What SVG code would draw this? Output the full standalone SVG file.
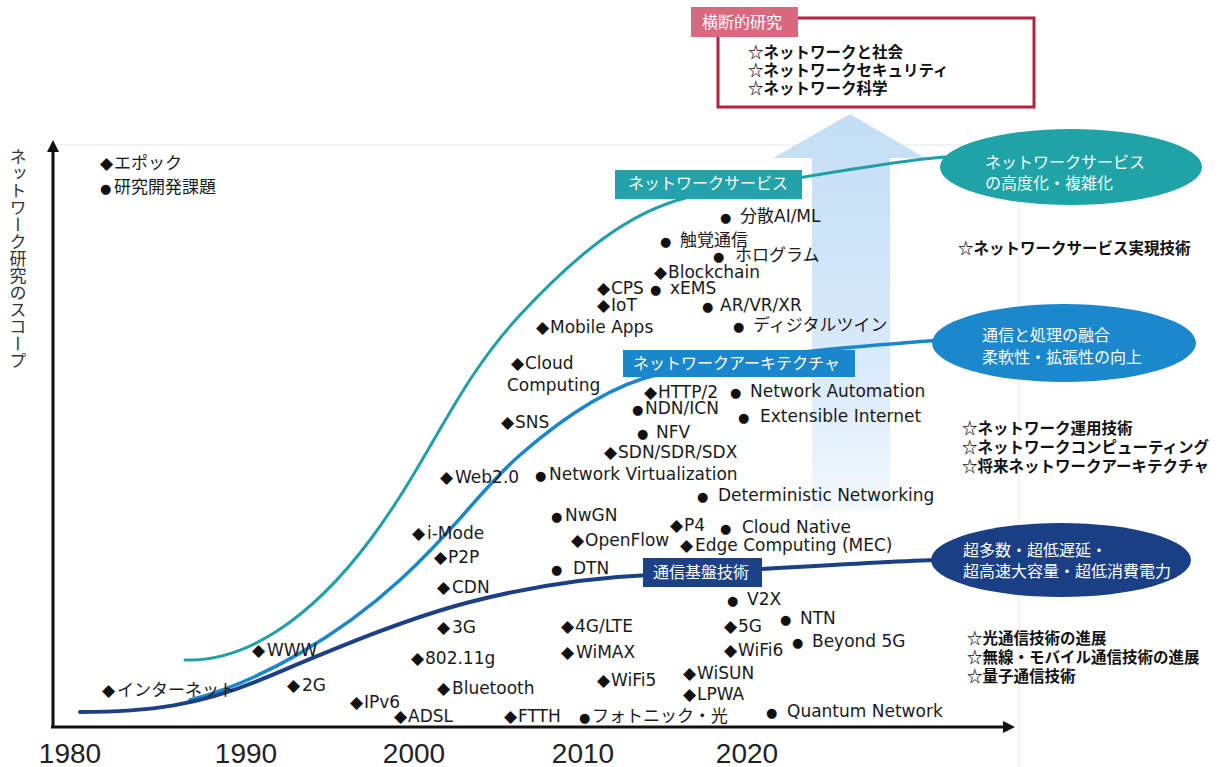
<svg xmlns="http://www.w3.org/2000/svg" width="1222" height="767" viewBox="0 0 1222 767">
<style>
.it{font-family:"DejaVu Sans","Noto Sans CJK JP",sans-serif;font-size:17px;fill:#1a1a1a}
.mk{font-size:13px;fill:#111}
.dm{font-size:17px;fill:#111}
.wl{font-family:"Noto Sans CJK JP",sans-serif;font-size:16px;fill:#fff}
.bl{font-family:"Noto Sans CJK JP",sans-serif;font-size:15.5px;font-weight:700;fill:#111}
.yr{font-family:"Liberation Sans",Arial,sans-serif;font-size:28px;fill:#222;text-anchor:middle}
.ax{stroke:#111;stroke-width:3;fill:none}
.cv{fill:none;stroke-linecap:round}
</style>
<defs>
<marker id="ah" viewBox="0 0 10 10" refX="0" refY="5" markerWidth="4" markerHeight="4" orient="auto" markerUnits="strokeWidth"><path d="M0,0 L10,5 L0,10 z" fill="#111"/></marker>
<linearGradient id="ag" x1="0" y1="0" x2="0" y2="1"><stop offset="0" stop-color="#c3def5"/><stop offset="0.7" stop-color="#dcecfa"/><stop offset="1" stop-color="#f3f9fe"/></linearGradient>
</defs>
<rect width="1222" height="767" fill="#fff"/>
<g id="panel"><path d="M55,145 H1019 V767" fill="none" stroke="#efefef" stroke-width="1.5"/></g>
<g id="bigarrow"><polygon points="850,114 925,158 890,158 890,510 812,510 812,158 773,158" fill="url(#ag)"/></g>

<g id="crosscut">
<rect x="718" y="18" width="316" height="89" fill="#fff" stroke="#b5223d" stroke-width="3"/>
<rect x="691" y="7" width="107" height="30" fill="#d9697f"/>
<text class="wl" x="702" y="28">横断的研究</text>
<text class="bl" x="748" y="58">☆ネットワークと社会</text>
<text class="bl" x="748" y="76">☆ネットワークセキュリティ</text>
<text class="bl" x="748" y="94">☆ネットワーク科学</text>
</g>

<g id="connectors">
<path class="cv" d="M185,660 C245,662 310,620 370,540 C430,460 455,385 520,315 C585,245 640,205 700,195 C760,185 880,162 945,157" stroke="#1fa0a6" stroke-width="3"/>
<path class="cv" d="M190,700 C260,682 340,635 400,580 C460,525 480,490 520,455 C560,420 610,385 660,374 C760,352 880,345 940,340" stroke="#1a86cc" stroke-width="3.5"/>
<path class="cv" d="M80,712 C150,712 200,705 260,680 C320,655 400,620 470,602 C540,584 600,577 650,575 C700,573 850,563 935,560" stroke="#1c3f86" stroke-width="4"/>
</g>

<g id="lbl-service"><rect x="615" y="170" width="187" height="29" fill="#22a3a9"/><text class="wl" x="628" y="189">ネットワークサービス</text></g>
<g id="lbl-arch"><rect x="623" y="350" width="232" height="27" fill="#1a86cc"/><text class="wl" x="633" y="369">ネットワークアーキテクチャ</text></g>
<g id="lbl-base"><rect x="643" y="558" width="119" height="29" fill="#1d4187"/><text class="wl" x="653" y="578">通信基盤技術</text></g>

<g id="ell-service"><ellipse cx="1071" cy="167" rx="131" ry="38" fill="#1fa3a7"/><text class="wl" x="985" y="168">ネットワークサービス</text><text class="wl" x="985" y="189">の高度化・複雑化</text></g>
<g id="ell-arch"><ellipse cx="1064" cy="343" rx="132" ry="39" fill="#1b87cc"/><text class="wl" x="982" y="341">通信と処理の融合</text><text class="wl" x="982" y="363">柔軟性・拡張性の向上</text></g>
<g id="ell-base"><ellipse cx="1061" cy="560" rx="130" ry="37" fill="#1b3f85"/><text class="wl" x="963" y="556">超多数・超低遅延・</text><text class="wl" x="963" y="577">超高速大容量・超低消費電力</text></g>

<g id="list-service"><text class="bl" x="958" y="254">☆ネットワークサービス実現技術</text></g>
<g id="list-arch"><text class="bl" x="962" y="434">☆ネットワーク運用技術</text><text class="bl" x="962" y="453">☆ネットワークコンピューティング</text><text class="bl" x="962" y="472">☆将来ネットワークアーキテクチャ</text></g>
<g id="list-base"><text class="bl" x="967" y="644">☆光通信技術の進展</text><text class="bl" x="967" y="663">☆無線・モバイル通信技術の進展</text><text class="bl" x="967" y="682">☆量子通信技術</text></g>

<g id="legend"><text class="it" y="169"><tspan class="dm" x="100">◆</tspan><tspan x="114">エポック</tspan></text><text class="it" y="193"><tspan class="mk" x="100">●</tspan><tspan x="114">研究開発課題</tspan></text></g>

<g id="items">
<g id="i1"><text class="it" y="222"><tspan class="mk" x="720">●</tspan><tspan x="740">分散AI/ML</tspan></text></g>
<g id="i2"><text class="it" y="246"><tspan class="mk" x="660">●</tspan><tspan x="680">触覚通信</tspan></text></g>
<g id="i3"><text class="it" y="261"><tspan class="mk" x="713">●</tspan><tspan x="735">ホログラム</tspan></text></g>
<g id="i4"><text class="it" y="278"><tspan class="dm" x="654">◆</tspan><tspan x="668">Blockchain</tspan></text></g>
<g id="i5"><text class="it" y="294"><tspan class="dm" x="597">◆</tspan><tspan x="611">CPS</tspan></text></g>
<g id="i6"><text class="it" y="294"><tspan class="mk" x="650">●</tspan><tspan x="670">xEMS</tspan></text></g>
<g id="i7"><text class="it" y="311"><tspan class="dm" x="597">◆</tspan><tspan x="611">IoT</tspan></text></g>
<g id="i8"><text class="it" y="311"><tspan class="mk" x="702">●</tspan><tspan x="720">AR/VR/XR</tspan></text></g>
<g id="i9"><text class="it" y="333"><tspan class="dm" x="536">◆</tspan><tspan x="550">Mobile Apps</tspan></text></g>
<g id="i10"><text class="it" y="331"><tspan class="mk" x="733">●</tspan><tspan x="753">ディジタルツイン</tspan></text></g>
<g id="i11"><text class="it" y="369"><tspan class="dm" x="511">◆</tspan><tspan x="525">Cloud</tspan></text><text class="it" x="507" y="391">Computing</text></g>
<g id="i12"><text class="it" y="398"><tspan class="dm" x="644">◆</tspan><tspan x="658">HTTP/2</tspan></text></g>
<g id="i13"><text class="it" y="397"><tspan class="mk" x="730">●</tspan><tspan x="750">Network Automation</tspan></text></g>
<g id="i14"><text class="it" y="414"><tspan class="mk" x="632">●</tspan><tspan x="645">NDN/ICN</tspan></text></g>
<g id="i15"><text class="it" y="422"><tspan class="mk" x="738">●</tspan><tspan x="760">Extensible Internet</tspan></text></g>
<g id="i16"><text class="it" y="438"><tspan class="mk" x="637">●</tspan><tspan x="656">NFV</tspan></text></g>
<g id="i17"><text class="it" y="458"><tspan class="dm" x="604">◆</tspan><tspan x="618">SDN/SDR/SDX</tspan></text></g>
<g id="i18"><text class="it" y="428"><tspan class="dm" x="501">◆</tspan><tspan x="515">SNS</tspan></text></g>
<g id="i19"><text class="it" y="483"><tspan class="dm" x="440">◆</tspan><tspan x="455">Web2.0</tspan></text></g>
<g id="i20"><text class="it" y="480"><tspan class="mk" x="535">●</tspan><tspan x="549">Network Virtualization</tspan></text></g>
<g id="i21"><text class="it" y="501"><tspan class="mk" x="697">●</tspan><tspan x="718">Deterministic Networking</tspan></text></g>
<g id="i22"><text class="it" y="521"><tspan class="mk" x="551">●</tspan><tspan x="565">NwGN</tspan></text></g>
<g id="i23"><text class="it" y="539"><tspan class="dm" x="412">◆</tspan><tspan x="427">i-Mode</tspan></text></g>
<g id="i24"><text class="it" y="546"><tspan class="dm" x="571">◆</tspan><tspan x="585">OpenFlow</tspan></text></g>
<g id="i25"><text class="it" y="531"><tspan class="dm" x="670">◆</tspan><tspan x="684">P4</tspan></text></g>
<g id="i26"><text class="it" y="533"><tspan class="mk" x="720">●</tspan><tspan x="742">Cloud Native</tspan></text></g>
<g id="i27"><text class="it" y="551"><tspan class="dm" x="680">◆</tspan><tspan x="695">Edge Computing (MEC)</tspan></text></g>
<g id="i28"><text class="it" y="563"><tspan class="dm" x="434">◆</tspan><tspan x="448">P2P</tspan></text></g>
<g id="i29"><text class="it" y="574"><tspan class="mk" x="551">●</tspan><tspan x="573">DTN</tspan></text></g>
<g id="i30"><text class="it" y="593"><tspan class="dm" x="437">◆</tspan><tspan x="452">CDN</tspan></text></g>
<g id="i31"><text class="it" y="605"><tspan class="mk" x="727">●</tspan><tspan x="747">V2X</tspan></text></g>
<g id="i32"><text class="it" y="624"><tspan class="mk" x="780">●</tspan><tspan x="800">NTN</tspan></text></g>
<g id="i33"><text class="it" y="633"><tspan class="dm" x="437">◆</tspan><tspan x="452">3G</tspan></text></g>
<g id="i34"><text class="it" y="632"><tspan class="dm" x="561">◆</tspan><tspan x="575">4G/LTE</tspan></text></g>
<g id="i35"><text class="it" y="632"><tspan class="dm" x="724">◆</tspan><tspan x="738">5G</tspan></text></g>
<g id="i36"><text class="it" y="647"><tspan class="mk" x="792">●</tspan><tspan x="812">Beyond 5G</tspan></text></g>
<g id="i37"><text class="it" y="664"><tspan class="dm" x="411">◆</tspan><tspan x="425">802.11g</tspan></text></g>
<g id="i38"><text class="it" y="658"><tspan class="dm" x="561">◆</tspan><tspan x="576">WiMAX</tspan></text></g>
<g id="i39"><text class="it" y="656"><tspan class="dm" x="724">◆</tspan><tspan x="738">WiFi6</tspan></text></g>
<g id="i40"><text class="it" y="679"><tspan class="dm" x="683">◆</tspan><tspan x="697">WiSUN</tspan></text></g>
<g id="i41"><text class="it" y="686"><tspan class="dm" x="597">◆</tspan><tspan x="611">WiFi5</tspan></text></g>
<g id="i42"><text class="it" y="694"><tspan class="dm" x="437">◆</tspan><tspan x="452">Bluetooth</tspan></text></g>
<g id="i43"><text class="it" y="700"><tspan class="dm" x="683">◆</tspan><tspan x="697">LPWA</tspan></text></g>
<g id="i44"><text class="it" y="696"><tspan class="dm" x="102">◆</tspan><tspan x="117">インターネット</tspan></text></g>
<g id="i45"><text class="it" y="656"><tspan class="dm" x="252">◆</tspan><tspan x="267">WWW</tspan></text></g>
<g id="i46"><text class="it" y="691"><tspan class="dm" x="287">◆</tspan><tspan x="302">2G</tspan></text></g>
<g id="i47"><text class="it" y="708"><tspan class="dm" x="350">◆</tspan><tspan x="364">IPv6</tspan></text></g>
<g id="i48"><text class="it" y="722"><tspan class="dm" x="394">◆</tspan><tspan x="408">ADSL</tspan></text></g>
<g id="i49"><text class="it" y="722"><tspan class="dm" x="504">◆</tspan><tspan x="518">FTTH</tspan></text></g>
<g id="i50"><text class="it" y="722"><tspan class="mk" x="579">●</tspan><tspan x="592">フォトニック・光</tspan></text></g>
<g id="i51"><text class="it" y="717"><tspan class="mk" x="766">●</tspan><tspan x="787">Quantum Network</tspan></text></g>
</g>

<g id="axes">
<line class="ax" x1="53" y1="728" x2="53" y2="152" marker-end="url(#ah)"/>
<line class="ax" x1="51" y1="727" x2="1003" y2="727" marker-end="url(#ah)"/>
<text x="18" y="148" style="writing-mode:vertical-rl" font-family="Noto Sans CJK JP, sans-serif" font-size="17" fill="#333">ネットワーク研究のスコープ</text>
<text class="yr" x="70" y="763">1980</text>
<text class="yr" x="246" y="763">1990</text>
<text class="yr" x="414" y="763">2000</text>
<text class="yr" x="583" y="763">2010</text>
<text class="yr" x="747" y="763">2020</text>
</g>
</svg>
